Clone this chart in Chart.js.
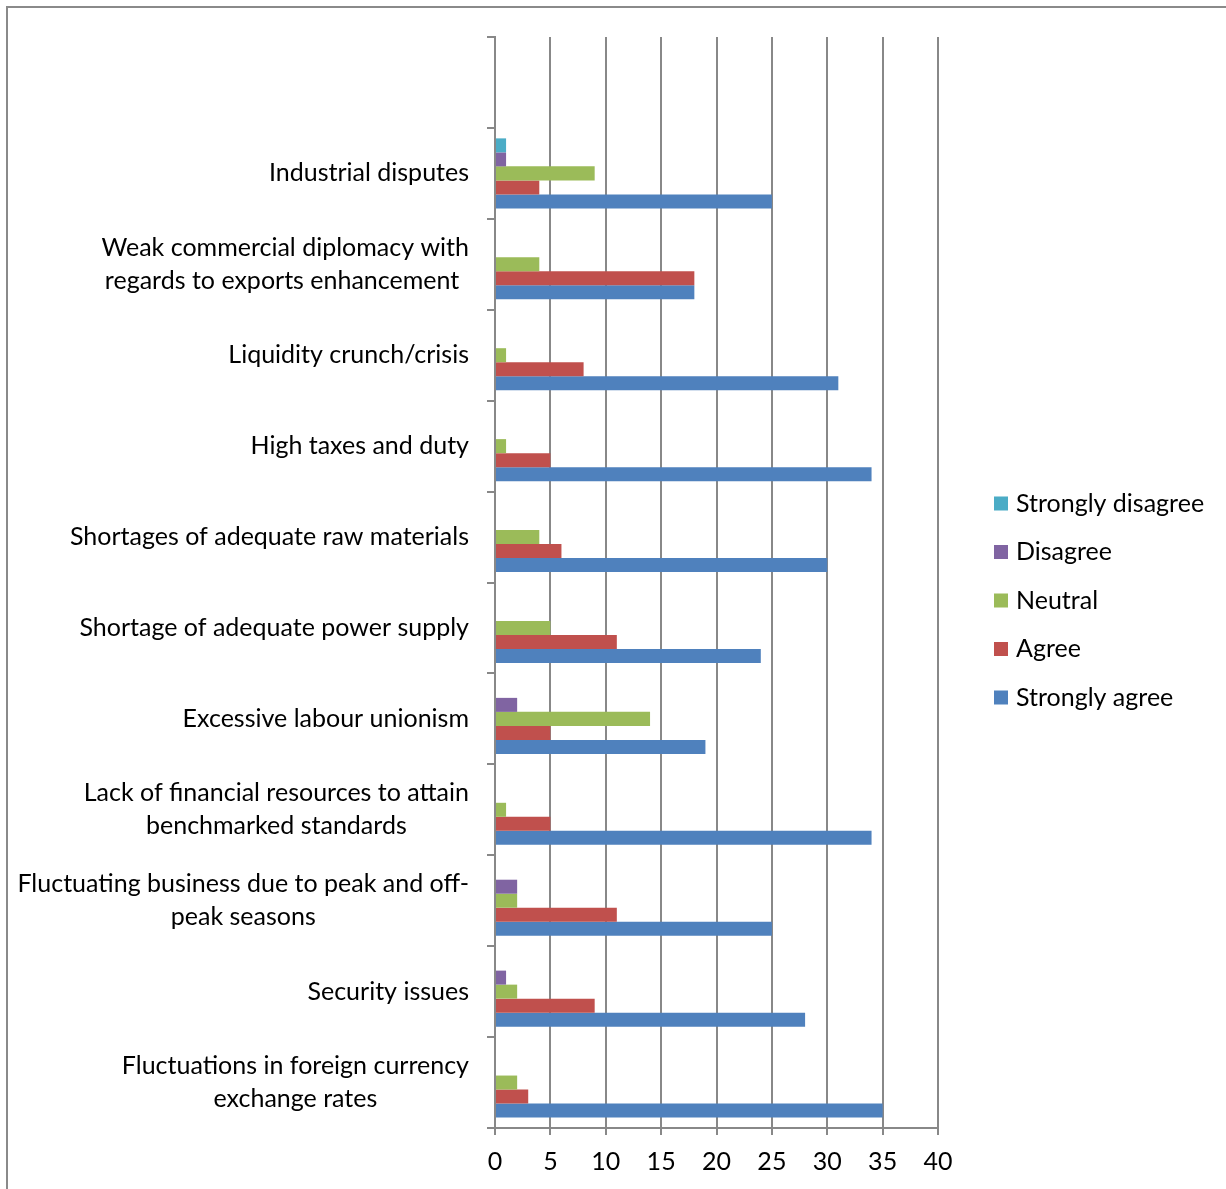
<!DOCTYPE html>
<html>
<head>
<meta charset="utf-8">
<script src="https://cdn.jsdelivr.net/npm/chart.js@4.4.1/dist/chart.umd.min.js"></script>
<style>
  html, body { margin: 0; padding: 0; background: #fff; }
</style>
</head>
<body>
<canvas id="chart" width="1226" height="1189"></canvas>
<script>
// categories listed top to bottom, first slot is an empty category
const categories = [
  '',
  'Industrial disputes',
  ['Weak commercial diplomacy with', 'regards to exports enhancement '],
  'Liquidity crunch/crisis',
  'High taxes and duty',
  'Shortages of adequate raw materials',
  'Shortage of adequate power supply',
  'Excessive labour unionism',
  ['Lack of financial resources to attain', 'benchmarked standards'],
  ['Fluctuating business due to peak and off-', 'peak seasons'],
  'Security issues',
  ['Fluctuations in foreign currency', 'exchange rates']
];

const seriesNames = ['Strongly disagree', 'Disagree', 'Neutral', 'Agree', 'Strongly agree'];
const stronglyDisagree = [null, 1, 0, 0, 0, 0, 0, 0, 0, 0, 0, 0];
const disagree         = [null, 1, 0, 0, 0, 0, 0, 2, 0, 2, 1, 0];
const neutral          = [null, 9, 4, 1, 1, 4, 5, 14, 1, 2, 2, 2];
const agree            = [null, 4, 18, 8, 5, 6, 11, 5, 5, 11, 9, 3];
const stronglyAgree    = [null, 25, 18, 31, 34, 30, 24, 19, 34, 25, 28, 35];

const xMin = 0, xMax = 40, xStep = 5;

const colors = ['#4BACC6', '#8064A2', '#9BBB59', '#C0504D', '#4F81BD'];
const FONT = 'Lato, "Open Sans", sans-serif';
const FONT_SIZE = 25;
const GRID = '#888888';

// y-axis labels: lines of a label are centred on each other, block right-aligned
const categoryLabels = {
  id: 'categoryLabels',
  afterDraw(chart) {
    const y = chart.scales.y;
    const ctx = chart.ctx;
    const right = chart.chartArea.left - 26;
    ctx.save();
    ctx.font = `${FONT_SIZE}px ${FONT}`;
    ctx.fillStyle = '#000';
    ctx.textAlign = 'center';
    ctx.textBaseline = 'middle';
    categories.forEach((label, i) => {
      const lines = Array.isArray(label) ? label : [label];
      const w = Math.max(...lines.map(l => ctx.measureText(l).width));
      const cx = right - w / 2;
      const cy = y.getPixelForValue(i);
      lines.forEach((line, j) => {
        ctx.fillText(line, cx, cy + (j - (lines.length - 1) / 2) * 33);
      });
    });
    ctx.restore();
  }
};

const sideLegend = {
  id: 'sideLegend',
  afterDraw(chart) {
    const ctx = chart.ctx;
    const x0 = chart.chartArea.right + 56;
    const yMid = 600.5, gap = 48.5;
    const n = chart.data.datasets.length;
    ctx.save();
    ctx.font = `${FONT_SIZE}px ${FONT}`;
    ctx.textBaseline = 'middle';
    ctx.textAlign = 'left';
    chart.data.datasets.forEach((ds, i) => {
      const cy = yMid + (i - (n - 1) / 2) * gap;
      ctx.fillStyle = ds.backgroundColor;
      ctx.fillRect(x0, cy - 7, 14, 14);
      ctx.fillStyle = '#000';
      ctx.fillText(ds.label, x0 + 22, cy);
    });
    ctx.restore();
  }
};

const frame = {
  id: 'frame',
  beforeDraw(chart) {
    const ctx = chart.ctx;
    ctx.save();
    ctx.strokeStyle = '#8a8a8a';
    ctx.lineWidth = 2;
    ctx.beginPath();
    ctx.moveTo(7, chart.height);
    ctx.lineTo(7, 7);
    ctx.lineTo(chart.width, 7);
    ctx.stroke();
    ctx.restore();
  }
};

const seriesData = [stronglyDisagree, disagree, neutral, agree, stronglyAgree];

new Chart(document.getElementById('chart'), {
  type: 'bar',
  data: {
    labels: categories,
    datasets: seriesNames.map((name, i) => ({
      label: name,
      data: seriesData[i],
      backgroundColor: colors[i],
      borderWidth: 0,
      categoryPercentage: 0.77,
      barPercentage: 1.0
    }))
  },
  options: {
    indexAxis: 'y',
    responsive: false,
    animation: false,
    layout: { padding: { top: 37, right: 288, bottom: 0, left: 0 } },
    plugins: {
      legend: { display: false },
      tooltip: { enabled: false }
    },
    scales: {
      x: {
        min: xMin,
        max: xMax,
        ticks: { stepSize: xStep, color: '#000', font: { family: FONT, size: FONT_SIZE }, padding: 12 },
        grid: { color: GRID, lineWidth: 2, tickLength: 7 },
        border: { color: GRID, width: 2 },
        afterFit(scale) { scale.height = 61; }
      },
      y: {
        offset: true,
        grid: { offset: true, drawOnChartArea: false, tickLength: 8, color: GRID, lineWidth: 2 },
        border: { color: GRID, width: 2 },
        ticks: { display: false },
        afterFit(scale) { scale.width = 495; }
      }
    }
  },
  plugins: [frame, categoryLabels, sideLegend]
});
</script>
</body>
</html>
